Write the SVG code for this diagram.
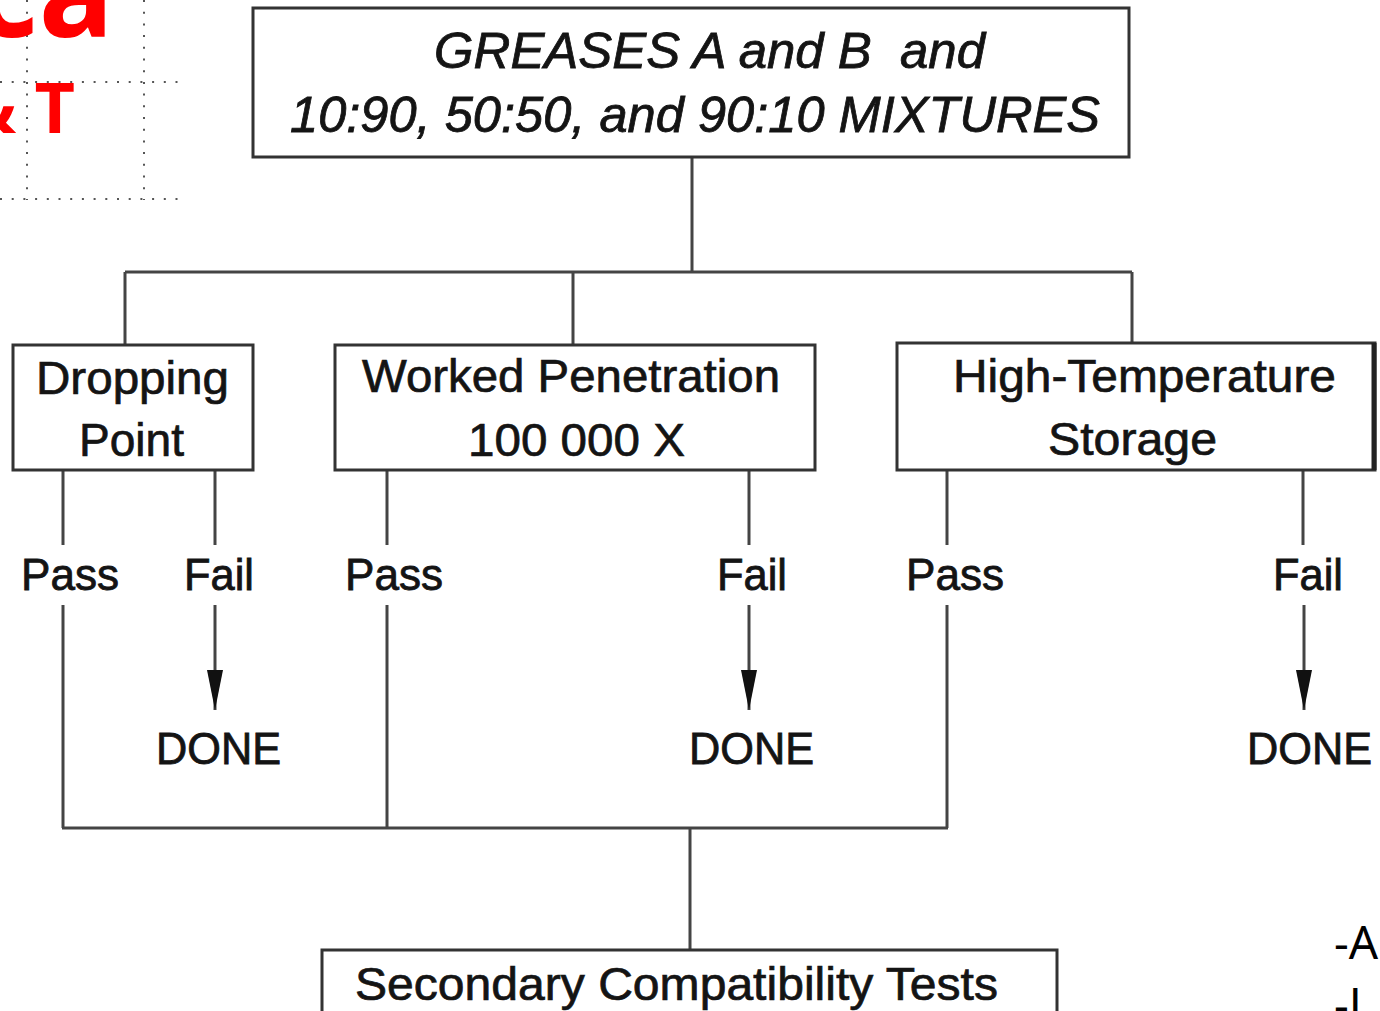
<svg xmlns="http://www.w3.org/2000/svg" width="1380" height="1011" viewBox="0 0 1380 1011">
<style>
.box{fill:#fff;stroke:#333;stroke-width:3}
.ln{fill:none;stroke:#444;stroke-width:3}
.t{font-family:"Liberation Sans",Arial,sans-serif;fill:#141414;stroke:#141414;stroke-width:0.7;font-size:46px}
.ti{font-family:"Liberation Sans",Arial,sans-serif;fill:#141414;stroke:#141414;stroke-width:0.8;font-size:50px;font-style:italic}
.lbl{font-family:"Liberation Sans",Arial,sans-serif;fill:#141414;stroke:#141414;stroke-width:0.8;font-size:44px}
.guide{fill:none;stroke:#555;stroke-width:2;stroke-dasharray:2 9.7}
.red{font-family:"Open Sans","Liberation Sans",sans-serif;font-weight:bold;fill:#f00}
.blk{font-family:"Noto Sans","Liberation Sans",sans-serif;fill:#000;font-size:46px}
</style>
<defs>
<marker id="arr" viewBox="0 -8 40 16" refX="40" refY="0" markerWidth="40" markerHeight="16" markerUnits="userSpaceOnUse" orient="auto">
<path d="M0,-8 L40,0 L0,8 z" fill="#111"/>
</marker>
</defs>
<rect width="1380" height="1011" fill="#fff"/>

<g id="slide-bg">
<line class="guide" x1="27" y1="0" x2="27" y2="200"/>
<line class="guide" x1="144" y1="0" x2="144" y2="200"/>
<line class="guide" x1="0" y1="82" x2="182" y2="82"/>
<line class="guide" x1="0" y1="199" x2="182" y2="199"/>
<text class="red" x="114" y="37" font-size="125" text-anchor="end">ca</text>
<text class="red" x="75" y="133" font-size="70" text-anchor="end" xml:space="preserve">&amp; T</text>
<text class="blk" x="1334" y="959">-A</text>
<text class="blk" x="1334" y="1021">-L</text>
</g>

<g id="connectors">
<path class="ln" d="M692,157 V272 M125,272 H1132 M125,272 V345 M573,272 V345 M1132,272 V342"/>
<path class="ln" d="M63,470 V545 M63,605 V828 M387,470 V545 M387,605 V828 M947,470 V545 M947,605 V828 M62,828 H948 M690,828 V950"/>
<path class="ln" d="M215,470 V545 M749,470 V545 M1303,470 V545"/>
<line class="ln" x1="215" y1="605" x2="215" y2="710" marker-end="url(#arr)"/>
<line class="ln" x1="749" y1="605" x2="749" y2="710" marker-end="url(#arr)"/>
<line class="ln" x1="1304" y1="605" x2="1304" y2="710" marker-end="url(#arr)"/>
</g>

<g id="top">
<rect class="box" x="253" y="8" width="876" height="149"/>
<text class="ti" x="434" y="68" textLength="551" lengthAdjust="spacingAndGlyphs" xml:space="preserve">GREASES A and B  and</text>
<text class="ti" x="290" y="132" textLength="810" lengthAdjust="spacingAndGlyphs">10:90, 50:50, and 90:10 MIXTURES</text>
</g>

<g id="dropping">
<rect class="box" x="13" y="345" width="240" height="125"/>
<text class="t" x="36" y="394" textLength="193" lengthAdjust="spacingAndGlyphs">Dropping</text>
<text class="t" x="79" y="456" textLength="105" lengthAdjust="spacingAndGlyphs">Point</text>
</g>

<g id="worked">
<rect class="box" x="335" y="345" width="480" height="125"/>
<text class="t" x="362" y="392" textLength="418" lengthAdjust="spacingAndGlyphs">Worked Penetration</text>
<text class="t" x="468" y="456" textLength="217" lengthAdjust="spacingAndGlyphs">100 000 X</text>
</g>

<g id="hightemp">
<rect class="box" x="897" y="343" width="478" height="127"/>
<line x1="1374" y1="343" x2="1374" y2="470" stroke="#222" stroke-width="5"/>
<text class="t" x="953" y="392" textLength="383" lengthAdjust="spacingAndGlyphs">High-Temperature</text>
<text class="t" x="1048" y="455" textLength="169" lengthAdjust="spacingAndGlyphs">Storage</text>
</g>

<g id="labels">
<text class="lbl" x="21" y="590" textLength="98" lengthAdjust="spacingAndGlyphs">Pass</text>
<text class="lbl" x="184" y="590" textLength="70" lengthAdjust="spacingAndGlyphs">Fail</text>
<text class="lbl" x="345" y="590" textLength="98" lengthAdjust="spacingAndGlyphs">Pass</text>
<text class="lbl" x="717" y="590" textLength="70" lengthAdjust="spacingAndGlyphs">Fail</text>
<text class="lbl" x="906" y="590" textLength="98" lengthAdjust="spacingAndGlyphs">Pass</text>
<text class="lbl" x="1273" y="590" textLength="70" lengthAdjust="spacingAndGlyphs">Fail</text>
</g>

<g id="done1"><text class="lbl" x="156" y="764" textLength="125" lengthAdjust="spacingAndGlyphs">DONE</text></g>
<g id="done2"><text class="lbl" x="689" y="764" textLength="125" lengthAdjust="spacingAndGlyphs">DONE</text></g>
<g id="done3"><text class="lbl" x="1247" y="764" textLength="125" lengthAdjust="spacingAndGlyphs">DONE</text></g>

<g id="secondary">
<rect class="box" x="322" y="950" width="735" height="80"/>
<text class="t" x="355" y="1000" textLength="643" lengthAdjust="spacingAndGlyphs">Secondary Compatibility Tests</text>
</g>
</svg>
